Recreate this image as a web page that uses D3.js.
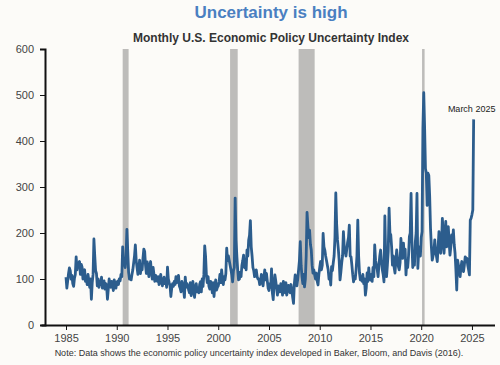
<!DOCTYPE html>
<html lang="en">
<head>
    <meta charset="UTF-8">
    <title>Uncertainty is high</title>
    <script type="text/javascript" src="https://cdn.jsdelivr.net/npm/d3@7/dist/d3.min.js"></script>
    <style>
        body {
            margin: 0;
            background: #fcfbf8;
        }
        svg {
            font-family: "Liberation Sans", Arial, sans-serif;
        }
        .axis text {
            font-size: 11px;
            fill: #444;
        }
        .axis path, .axis line {
            stroke: #111;
        }
    </style>
</head>
<body>
<svg id="chart" width="500" height="365"></svg>
<script>
    // monthly index, Jan 1985 .. Mar 2025 (one row per year)
    var startYear = 1985;
    var epuValues = [
        104, 80, 96, 112, 124, 118, 100, 108, 90, 84, 102, 110,
        148, 120, 135, 128, 138, 110, 132, 126, 100, 115, 120, 95,
        105, 88, 110, 96, 82, 100, 56, 92, 110, 187, 150, 118,
        112, 85, 100, 82, 95, 88, 104, 80, 92, 96, 78, 90,
        85, 56, 78, 100, 88, 82, 95, 86, 75, 98, 90, 80,
        92, 95, 88, 100, 96, 110, 105, 170, 130, 140, 125, 150,
        208, 160, 115, 100, 105, 98, 110, 120, 135, 150, 174, 140,
        125, 110, 118, 141, 112, 128, 120, 145, 165, 160, 130, 112,
        137, 120, 105, 130, 138, 115, 100, 125, 110, 95, 108, 100,
        95, 105, 88, 100, 110, 92, 85, 98, 104, 90, 96, 82,
        126, 100, 92, 85, 62, 80, 90, 84, 95, 88, 105, 92,
        98, 108, 85, 80, 72, 95, 88, 78, 60, 104, 82, 90,
        85, 76, 70, 92, 64, 80, 95, 74, 60, 82, 90, 72,
        80, 70, 88, 94, 72, 100, 84, 110, 172, 150, 108, 92,
        105, 84, 78, 95, 88, 70, 92, 62, 85, 98, 76, 82,
        85, 94, 110, 92, 120, 100, 88, 105, 98, 112, 167, 140,
        150, 140, 130, 120, 110, 94, 118, 125, 276, 185, 150, 120,
        98, 100, 115, 105, 130, 140, 152, 125, 135, 120, 163, 150,
        185, 195, 227, 170, 150, 125, 118, 105, 110, 120, 105, 100,
        100, 88, 95, 110, 92, 85, 104, 120, 98, 112, 96, 80,
        75, 90, 82, 122, 70, 55, 88, 109, 96, 80, 65, 85,
        80, 72, 90, 87, 65, 95, 78, 70, 92, 65, 75, 86,
        80, 70, 88, 76, 60, 47, 90, 109, 95, 85, 100, 120,
        140, 181, 130, 105, 90, 110, 83, 100, 150, 245, 215, 190,
        206, 175, 163, 130, 113, 120, 109, 100, 113, 95, 87, 110,
        125, 138, 120, 130, 199, 170, 163, 150, 140, 130, 120, 100,
        110, 87, 127, 118, 135, 150, 190, 287, 220, 185, 165, 140,
        98, 115, 135, 150, 203, 170, 160, 150, 165, 180, 190, 217,
        150, 148, 130, 110, 94, 105, 100, 120, 150, 228, 150, 113,
        98, 105, 95, 110, 90, 100, 65, 80, 113, 95, 124, 100,
        98, 110, 95, 125, 105, 174, 141, 130, 120, 105, 130, 150,
        163, 140, 120, 110, 94, 237, 150, 105, 130, 160, 254, 200,
        196, 170, 130, 150, 125, 113, 140, 163, 145, 127, 120, 135,
        188, 160, 145, 178, 150, 165, 109, 140, 125, 150, 192, 200,
        286, 181, 125, 150, 130, 180, 200, 286, 123, 160, 170, 150,
        190, 203, 428, 505, 430, 340, 330, 260, 330, 325, 280, 210,
        170, 141, 150, 160, 185, 160, 150, 138, 170, 203, 180, 156,
        175, 232, 200, 156, 190, 225, 170, 190, 214, 180, 152, 170,
        196, 180, 207, 175, 156, 120, 76, 141, 130, 120, 105, 125,
        138, 125, 116, 130, 148, 140, 145, 130, 120, 109, 228, 232,
        240, 250, 447
    ];

    // NBER recessions, decimal years
    var recessions = [
        [1990.583, 1991.167],
        [2001.167, 2001.917],
        [2007.917, 2009.5],
        [2020.083, 2020.333]
    ];

    var yearTicks = [1985, 1990, 1995, 2000, 2005, 2010, 2015, 2020, 2025];
    var valueTicks = [0, 100, 200, 300, 400, 500, 600];

    var title = "Uncertainty is high",
        subtitle = "Monthly U.S. Economic Policy Uncertainty Index",
        note = "Note: Data shows the economic policy uncertainty index developed in Baker, Bloom, and Davis (2016).",
        lastLabel = "March 2025";

    var svg = d3.select("svg#chart");

    var data = epuValues.map(function (v, i) {
        return {t: startYear + i / 12, v: v};
    });

    var x = d3.scaleLinear()
        .domain([1982.93, 2027.27])
        .range([45, 495]);

    var y = d3.scaleLinear()
        .domain([0, 600])
        .range([325, 49]);

    svg.append("g")
        .selectAll("rect")
        .data(recessions)
        .enter()
        .append("rect")
        .attr("x", function (d) {
            return x(d[0]);
        })
        .attr("width", function (d) {
            return x(d[1]) - x(d[0]);
        })
        .attr("y", y(600))
        .attr("height", y(0) - y(600))
        .attr("fill", "#bdbcba");

    var line = d3.line()
        .x(function (d) {
            return x(d.t);
        })
        .y(function (d) {
            return y(d.v);
        });

    svg.append("path")
        .datum(data)
        .attr("d", line)
        .attr("fill", "none")
        .attr("stroke", "#2c5d8d")
        .attr("stroke-width", 2.8)
        .attr("stroke-linejoin", "round");

    var xAxis = svg.append("g")
        .attr("class", "axis")
        .attr("transform", "translate(0," + y(0) + ")")
        .call(d3.axisBottom(x)
            .tickValues(yearTicks)
            .tickFormat(d3.format("d"))
            .tickSizeOuter(0)
            .tickSize(5)
            .tickPadding(4));

    xAxis.select(".domain")
        .attr("d", "M41.5,0.5H495")
        .attr("stroke-width", 2);

    var yAxis = svg.append("g")
        .attr("class", "axis")
        .attr("transform", "translate(45,0)")
        .call(d3.axisLeft(y)
            .tickValues(valueTicks)
            .tickSizeOuter(0)
            .tickSize(5)
            .tickPadding(6));

    yAxis.select(".domain").attr("stroke-width", 2);

    var last = data[data.length - 1];
    svg.append("text")
        .attr("x", x(last.t) - 2)
        .attr("y", y(last.v) - 7)
        .attr("text-anchor", "middle")
        .attr("font-size", 9)
        .attr("fill", "#222")
        .text(lastLabel);

    svg.append("text")
        .attr("x", 271)
        .attr("y", 18)
        .attr("text-anchor", "middle")
        .attr("font-size", 17)
        .attr("font-weight", "bold")
        .attr("fill", "#4a7fc1")
        .text(title);

    svg.append("text")
        .attr("x", 271)
        .attr("y", 42)
        .attr("text-anchor", "middle")
        .attr("font-size", 12)
        .attr("font-weight", "bold")
        .attr("fill", "#333")
        .text(subtitle);

    svg.append("text")
        .attr("x", 259)
        .attr("y", 356)
        .attr("text-anchor", "middle")
        .attr("font-size", 9)
        .attr("fill", "#333")
        .text(note);
</script>
</body>
</html>
